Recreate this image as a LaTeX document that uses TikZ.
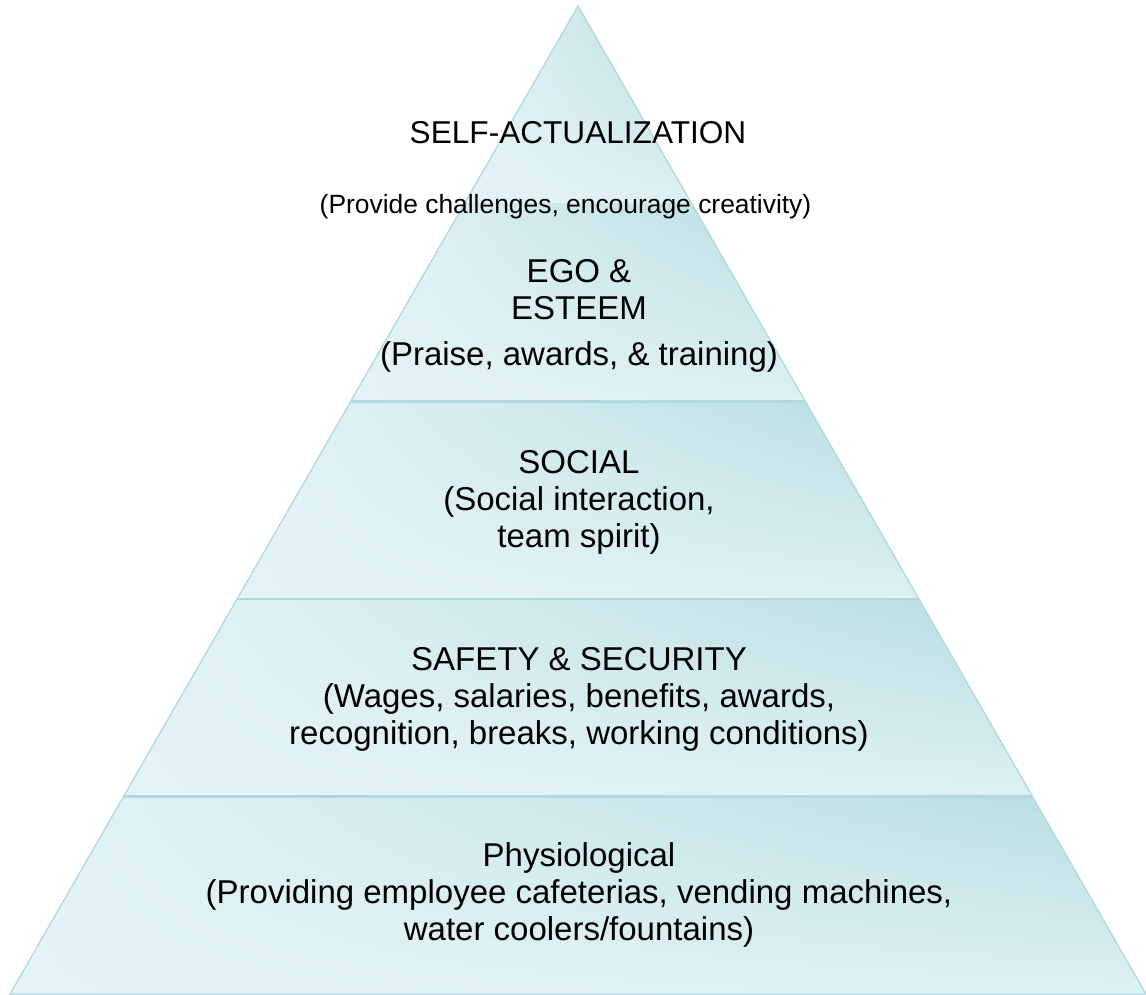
\documentclass[tikz,border=0pt]{standalone}
\usepackage{fontspec}
\setmainfont{Liberation Sans}
\usetikzlibrary{calc,shadings}
\definecolor{pyrLight}{RGB}{228,243,245}
\definecolor{pyrDark}{RGB}{182,221,226}
\definecolor{pyrLowR}{RGB}{222,240,242}
\definecolor{pyrLine}{RGB}{176,217,223}
\definecolor{pyrFaint}{RGB}{206,232,236}
\tikzset{
  band/.style={shade, upper left=pyrLight, lower left=pyrLight, upper right=pyrDark, lower right=pyrLowR},
  sepline/.style={draw=pyrLine, line width=2.6pt},
  faintline/.style={draw=pyrFaint, line width=1.6pt},
  outline/.style={draw=pyrLine, line width=1.3pt, line join=miter},
  lbl/.style={anchor=base, inner sep=0pt, text=black, font=\fontsize{33}{38}\selectfont},
  toplbl/.style={lbl, font=\fontsize{31.6}{38}\selectfont},
  sublbl/.style={lbl, font=\fontsize{26.4}{30}\selectfont}
}
\begin{document}
\begin{tikzpicture}[x=1pt,y=-1pt]
\useasboundingbox (0,0) rectangle (1146,994);
\coordinate (apex) at (578,6);
\coordinate (bl) at (10,994);
\coordinate (br) at (1146,994);
\foreach \f/\n in {0.2/a,0.4/b,0.6/c,0.8/d}{
  \coordinate (L\n) at ($(apex)!\f!(bl)$);
  \coordinate (R\n) at ($(apex)!\f!(br)$);
}
% bands
\path[band] (apex) -- (Ra) -- (La) -- cycle;
\path[band] (La) -- (Ra) -- (Rb) -- (Lb) -- cycle;
\path[band] (Lb) -- (Rb) -- (Rc) -- (Lc) -- cycle;
\path[band] (Lc) -- (Rc) -- (Rd) -- (Ld) -- cycle;
\path[band] (Ld) -- (Rd) -- (br) -- (bl) -- cycle;
% separators
\draw[faintline] (La) -- (Ra);
\draw[sepline] (Lb) -- (Rb);
\draw[sepline] (Lc) -- (Rc);
\draw[sepline] (Ld) -- (Rd);
\draw[outline] (apex) -- (br) -- (bl) -- cycle;
% texts
\node[toplbl] (selfact) at (578,143) {SELF-ACTUALIZATION};
\node[sublbl] (selfsub) at (565.5,213) {(Provide challenges, encourage creativity)};
\node[lbl] (ego1) at (579,282) {EGO \&};
\node[lbl] (ego2) at (579,319) {ESTEEM};
\node[lbl] (ego3) at (579,365) {(Praise, awards, \& training)};
\node[lbl] (soc1) at (579,473) {SOCIAL};
\node[lbl] (soc2) at (579,510) {(Social interaction,};
\node[lbl] (soc3) at (579,547) {team spirit)};
\node[lbl] (saf1) at (579,670) {SAFETY \& SECURITY};
\node[lbl] (saf2) at (579,707) {(Wages, salaries, benefits, awards,};
\node[lbl] (saf3) at (579,744) {recognition, breaks, working conditions)};
\node[lbl] (phy1) at (579,866) {Physiological};
\node[lbl] (phy2) at (579,903) {(Providing employee cafeterias, vending machines,};
\node[lbl] (phy3) at (579,940) {water coolers/fountains)};
\end{tikzpicture}
\end{document}
